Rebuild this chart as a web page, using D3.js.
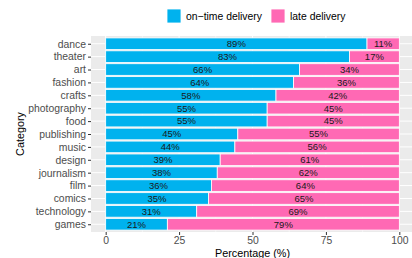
<!DOCTYPE html>
<html>
<head>
<meta charset="utf-8">
<script src="https://cdn.jsdelivr.net/npm/d3@7"></script>
<style>
  body { margin: 0; background: #fff; }
  text { font-family: "Liberation Sans", Arial, sans-serif; }
</style>
</head>
<body>
<div id="chart"></div>
<script>
// categories, top to bottom
const categories = ["dance", "theater", "art", "fashion", "crafts", "photography", "food",
  "publishing", "music", "design", "journalism", "film", "comics", "technology", "games"];
const onTime = [89, 83, 66, 64, 58, 55, 55, 45, 44, 39, 38, 36, 35, 31, 21];
const late = [11, 17, 34, 36, 42, 45, 45, 55, 56, 61, 62, 64, 65, 69, 79];
const seriesNames = ["on\u2212time delivery", "late delivery"];
const seriesColors = ["#00b2ee", "#ff69b4"];
const xTicks = [0, 25, 50, 75, 100];
const xMinor = [12.5, 37.5, 62.5, 87.5];

const width = 412, height = 258;
const panel = { left: 91, right: 414, top: 36, bottom: 232 };

const svg = d3.select("#chart").append("svg")
  .attr("width", width)
  .attr("height", height);

const x = d3.scaleLinear().domain([-5, 105]).range([panel.left, panel.right]);
const y = d3.scalePoint().domain(categories).range([panel.top, panel.bottom]).padding(0.6);
const barH = y.step() * 0.9;

// panel background
svg.append("rect")
  .attr("x", panel.left).attr("y", panel.top)
  .attr("width", panel.right - panel.left).attr("height", panel.bottom - panel.top)
  .attr("fill", "#ebebeb");

// grid lines
svg.selectAll(".minor").data(xMinor).enter().append("line")
  .attr("x1", d => x(d)).attr("x2", d => x(d))
  .attr("y1", panel.top).attr("y2", panel.bottom)
  .attr("stroke", "#fff").attr("stroke-width", 0.5);
svg.selectAll(".major").data(xTicks).enter().append("line")
  .attr("x1", d => x(d)).attr("x2", d => x(d))
  .attr("y1", panel.top).attr("y2", panel.bottom)
  .attr("stroke", "#fff").attr("stroke-width", 1);
svg.selectAll(".hgrid").data(categories).enter().append("line")
  .attr("x1", panel.left).attr("x2", panel.right)
  .attr("y1", d => y(d)).attr("y2", d => y(d))
  .attr("stroke", "#fff").attr("stroke-width", 1);

// stacked bars
const table = categories.map((c, i) => ({ category: c, onTime: onTime[i], late: late[i] }));
const stacked = d3.stack().keys(["onTime", "late"])(table);

stacked.forEach((layer, k) => {
  const g = svg.append("g");
  g.selectAll("rect").data(layer).enter().append("rect")
    .attr("x", d => x(d[0]))
    .attr("y", d => y(d.data.category) - barH / 2)
    .attr("width", d => x(d[1]) - x(d[0]))
    .attr("height", barH)
    .attr("fill", seriesColors[k])
    .attr("stroke", "#fff")
    .attr("stroke-width", 0.8);
  g.selectAll("text").data(layer).enter().append("text")
    .attr("x", d => x((d[0] + d[1]) / 2))
    .attr("y", d => y(d.data.category))
    .attr("dy", "0.35em")
    .attr("text-anchor", "middle")
    .attr("font-size", 9.5)
    .attr("fill", "#1a1a1a")
    .text(d => (d[1] - d[0]) + "%");
});

// y axis
const yAxis = svg.append("g")
  .attr("transform", `translate(${panel.left},0)`)
  .call(d3.axisLeft(y).tickSize(3).tickPadding(2));
yAxis.select(".domain").remove();
yAxis.selectAll(".tick line").attr("stroke", "#333");
yAxis.selectAll(".tick text").attr("font-size", 10.4).attr("fill", "#4d4d4d")
  .attr("font-family", "Liberation Sans, Arial, sans-serif");

// x axis
const xAxis = svg.append("g")
  .attr("transform", `translate(0,${panel.bottom})`)
  .call(d3.axisBottom(x).tickValues(xTicks).tickSize(3).tickPadding(2));
xAxis.select(".domain").remove();
xAxis.selectAll(".tick line").attr("stroke", "#333");
xAxis.selectAll(".tick text").attr("font-size", 10.4).attr("fill", "#4d4d4d")
  .attr("font-family", "Liberation Sans, Arial, sans-serif");

// axis titles
svg.append("text")
  .attr("x", x(50)).attr("y", 257)
  .attr("text-anchor", "middle").attr("font-size", 10.8).attr("fill", "#000")
  .text("Percentage (%)");
svg.append("text")
  .attr("transform", `translate(24,${(panel.top + panel.bottom) / 2}) rotate(-90)`)
  .attr("text-anchor", "middle").attr("font-size", 10.8).attr("fill", "#000")
  .text("Category");

// legend
const legendX = [167, 271];
seriesNames.forEach((name, k) => {
  svg.append("rect")
    .attr("x", legendX[k]).attr("y", 9)
    .attr("width", 14).attr("height", 14)
    .attr("fill", seriesColors[k]).attr("stroke", "#fff").attr("stroke-width", 0.8);
  svg.append("text")
    .attr("x", legendX[k] + 19).attr("y", 16).attr("dy", "0.35em")
    .attr("font-size", 10.4).attr("fill", "#000")
    .text(name);
});
</script>
</body>
</html>
